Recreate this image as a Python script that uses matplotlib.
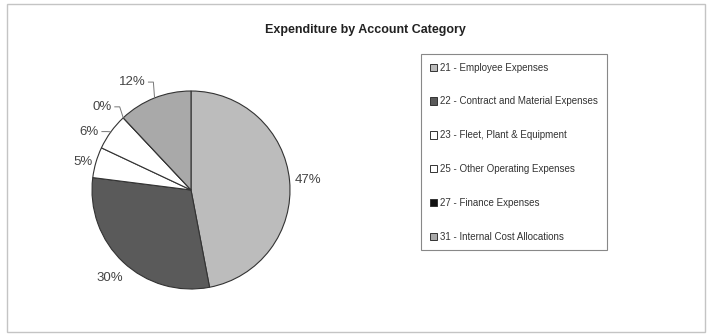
import numpy as np
import matplotlib.pyplot as plt
from matplotlib.patches import Patch, Rectangle

plt.rcParams['font.family'] = ['Liberation Sans', 'DejaVu Sans']

# Share of expenditure per account category (%)
categories = ['21 - Employee Expenses',
              '22 - Contract and Material Expenses',
              '23 - Fleet, Plant & Equipment',
              '25 - Other Operating Expenses',
              '27 - Finance Expenses',
              '31 - Internal Cost Allocations']
shares = [47, 30, 5, 6, 0, 12]
colors = ['#bcbcbc', '#5a5a5a', '#ffffff', '#ffffff', '#111111', '#a9a9a9']

# label anchor points (pie radius = 1) and whether a leader line is drawn
label_pos = [(1.18, 0.10), (-0.82, -0.89), (-1.09, 0.28),
             (-0.93, 0.59), (-0.80, 0.84), (-0.46, 1.09)]
has_leader = [False, False, False, True, True, True]

fig = plt.figure(figsize=(7.13, 3.34), dpi=100)
W, H = 713, 334

ax = fig.add_axes([52.4 / W, 5.4 / H, 277.2 / W, 277.2 / H])
wedges, _ = ax.pie(shares, colors=colors, startangle=90, counterclock=False,
                   wedgeprops=dict(edgecolor='#333333', linewidth=0.8))
ax.set_xlim(-1.4, 1.4)
ax.set_ylim(-1.4, 1.4)
ax.set_aspect('equal')
ax.axis('off')

for w, val, (px, py), leader in zip(wedges, shares, label_pos, has_leader):
    mid = np.deg2rad((w.theta1 + w.theta2) / 2)
    ex, ey = np.cos(mid), np.sin(mid)
    if leader:
        ax.text(px, py, f'{val:.0f}%', fontsize=9.5, color='#444444',
                ha='right', va='center')
        ax.plot([px + 0.03, px + 0.08, ex], [py, py, ey],
                color='#777777', lw=0.7)
    else:
        ax.text(px, py, f'{val:.0f}%', fontsize=9.5, color='#444444',
                ha='center', va='center')

fig.text(365 / W, 1 - 30 / H, 'Expenditure by Account Category',
         fontsize=9, fontweight='bold', color='#222222', ha='center', va='center')

handles = [Patch(facecolor=c, edgecolor='#333333', linewidth=0.7) for c in colors]
leg = fig.legend(handles, categories, loc='upper left',
                 bbox_to_anchor=(416 / W, 1 - 49 / H), fontsize=7,
                 handlelength=0.8, handleheight=0.8, handletextpad=0.3,
                 labelspacing=2.45, borderpad=0.9, fancybox=False,
                 edgecolor='#888888', framealpha=1)
leg.get_frame().set_linewidth(0.8)
for t in leg.get_texts():
    t.set_color('#333333')

# outer chart border
fig.patches.append(Rectangle((7 / W, 2 / H), 698 / W, 328 / H, fill=False,
                             edgecolor='#c4c4c4', linewidth=1,
                             transform=fig.transFigure))

fig.savefig('out.png', dpi=100)
